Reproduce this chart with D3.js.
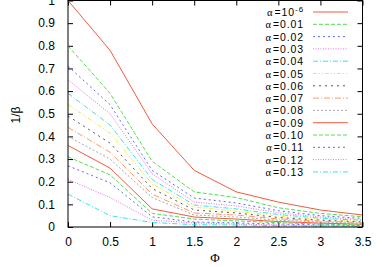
<!DOCTYPE html>
<html>
<head>
<meta charset="utf-8">
<script src="https://cdn.jsdelivr.net/npm/d3@7"></script>
<style>
  html, body { margin: 0; padding: 0; background: #fff; }
  svg { display: block; }
  .tick text { font-family: "Liberation Sans", Arial, sans-serif; font-size: 12px; fill: #000; }
  .lbl { font-family: "Liberation Sans", Arial, sans-serif; font-size: 12px; fill: #000; }
  .key { font-family: "Liberation Sans", Arial, sans-serif; font-size: 10.5px; letter-spacing: 0.9px; fill: #000; }
  .sym { font-family: "Liberation Serif", "DejaVu Serif", serif; }
</style>
</head>
<body>
<div id="chart"></div>
<script>
// x values (Phi)
const phi = [0, 0.5, 1, 1.5, 2, 2.5, 3, 3.5];

// legend labels (alpha), one per curve
const alphaLabels = ["10", "0.01", "0.02", "0.03", "0.04", "0.05", "0.06",
                     "0.07", "0.08", "0.09", "0.10", "0.11", "0.12", "0.13"];

// 1/beta, one array per alpha
const a1e6 = [1.00, 0.78, 0.455, 0.25, 0.155, 0.11, 0.075, 0.053];
const a001 = [0.80, 0.59, 0.29, 0.155, 0.13, 0.085, 0.06, 0.045];
const a002 = [0.71, 0.54, 0.25, 0.128, 0.106, 0.072, 0.05, 0.038];
const a003 = [0.65, 0.50, 0.235, 0.11, 0.093, 0.063, 0.044, 0.033];
const a004 = [0.59, 0.45, 0.21, 0.097, 0.08, 0.055, 0.039, 0.029];
const a005 = [0.54, 0.415, 0.19, 0.088, 0.07, 0.048, 0.034, 0.025];
const a006 = [0.49, 0.37, 0.17, 0.075, 0.062, 0.042, 0.03, 0.022];
const a007 = [0.44, 0.33, 0.145, 0.062, 0.053, 0.036, 0.026, 0.019];
const a008 = [0.40, 0.30, 0.13, 0.053, 0.044, 0.03, 0.022, 0.016];
const a009 = [0.36, 0.26, 0.08, 0.044, 0.035, 0.024, 0.017, 0.012];
const a010 = [0.31, 0.23, 0.06, 0.035, 0.027, 0.019, 0.013, 0.009];
const a011 = [0.27, 0.195, 0.045, 0.022, 0.018, 0.013, 0.009, 0.006];
const a012 = [0.21, 0.13, 0.03, 0.018, 0.013, 0.009, 0.006, 0.004];
const a013 = [0.145, 0.05, 0.02, 0.01, 0.009, 0.006, 0.004, 0.003];

const curves = [a1e6, a001, a002, a003, a004, a005, a006,
                a007, a008, a009, a010, a011, a012, a013];

// tick values
const xTicks = [0, 0.5, 1, 1.5, 2, 2.5, 3, 3.5];
const yTicks = [0, 0.1, 0.2, 0.3, 0.4, 0.5, 0.6, 0.7, 0.8, 0.9, 1];

// gnuplot style line types (repeat after 9)
const colors = ["#f25a40", "#55dd55", "#5a6cf2", "#f066f0", "#2ee8ee",
                "#eeee30", "#555555", "#ff9a66", "#aaaaaa"];
const dashes = [null, "4,2", "2,3", "1,1.5", "5,2,1,2", "4,2,1,2,1,2",
                "2,4", "6,2,1,2", "2,2"];

const width = 382;
const height = 267;

const x = d3.scaleLinear().domain([0, 3.5]).range([68, 362.5]);
const y = d3.scaleLinear().domain([0, 1]).range([227, 0.5]);

const svg = d3.select("#chart").append("svg")
    .attr("width", width)
    .attr("height", height);

// Axes (ticks pointing inward, gnuplot style)
svg.append("g")
    .attr("transform", `translate(0,${y(0)})`)
    .call(d3.axisBottom(x).tickValues(xTicks).tickSizeInner(-5).tickSizeOuter(0)
        .tickPadding(10).tickFormat(d => String(d)))
    .call(g => g.select(".domain").remove());

svg.append("g")
    .attr("transform", `translate(0,${y(1)})`)
    .call(d3.axisTop(x).tickValues(xTicks).tickSizeInner(-5).tickSizeOuter(0)
        .tickFormat(""))
    .call(g => g.select(".domain").remove());

svg.append("g")
    .attr("transform", `translate(${x(0)},0)`)
    .call(d3.axisLeft(y).tickValues(yTicks).tickSizeInner(-5).tickSizeOuter(0)
        .tickPadding(13).tickFormat(d => String(d)))
    .call(g => g.select(".domain").remove());

svg.append("g")
    .attr("transform", `translate(${x(3.5)},0)`)
    .call(d3.axisRight(y).tickValues(yTicks).tickSizeInner(-5).tickSizeOuter(0)
        .tickFormat(""))
    .call(g => g.select(".domain").remove());

svg.selectAll(".tick line").attr("stroke", "#000");

// Curves
const line = d3.line()
    .x((d, i) => x(phi[i]))
    .y(d => y(d));

svg.append("g")
    .selectAll("path")
    .data(curves)
    .join("path")
    .attr("d", d => line(d))
    .attr("fill", "none")
    .attr("stroke", (d, i) => colors[i % 9])
    .attr("stroke-width", 1)
    .attr("stroke-dasharray", (d, i) => dashes[i % 9]);

// Frame
svg.append("rect")
    .attr("x", x(0))
    .attr("y", y(1))
    .attr("width", x(3.5) - x(0))
    .attr("height", y(0) - y(1))
    .attr("fill", "none")
    .attr("stroke", "#000")
    .attr("stroke-width", 1);

// Legend
const legend = svg.append("g");
alphaLabels.forEach((lab, i) => {
    const ly = 12 + i * 12.3;
    const t = legend.append("text")
        .attr("class", "key")
        .attr("x", 304)
        .attr("y", ly + 4)
        .attr("text-anchor", "end");
    t.append("tspan").attr("class", "sym").style("letter-spacing", "2px").text("α");
    t.append("tspan").text("=" + lab);
    if (i === 0) {
        t.append("tspan").attr("dy", -4).style("font-size", "8px").text("-6");
    }
    legend.append("line")
        .attr("x1", 313).attr("x2", 348)
        .attr("y1", ly).attr("y2", ly)
        .attr("stroke", colors[i % 9])
        .attr("stroke-width", 1)
        .attr("stroke-dasharray", dashes[i % 9]);
});

// Axis titles
svg.append("text")
    .attr("class", "lbl sym")
    .attr("x", 215)
    .attr("y", 262)
    .attr("text-anchor", "middle")
    .style("font-size", "13px")
    .text("Φ");

svg.append("text")
    .attr("class", "lbl")
    .attr("transform", "translate(20,115) rotate(-90)")
    .attr("text-anchor", "middle")
    .text("1/β");
</script>
</body>
</html>
